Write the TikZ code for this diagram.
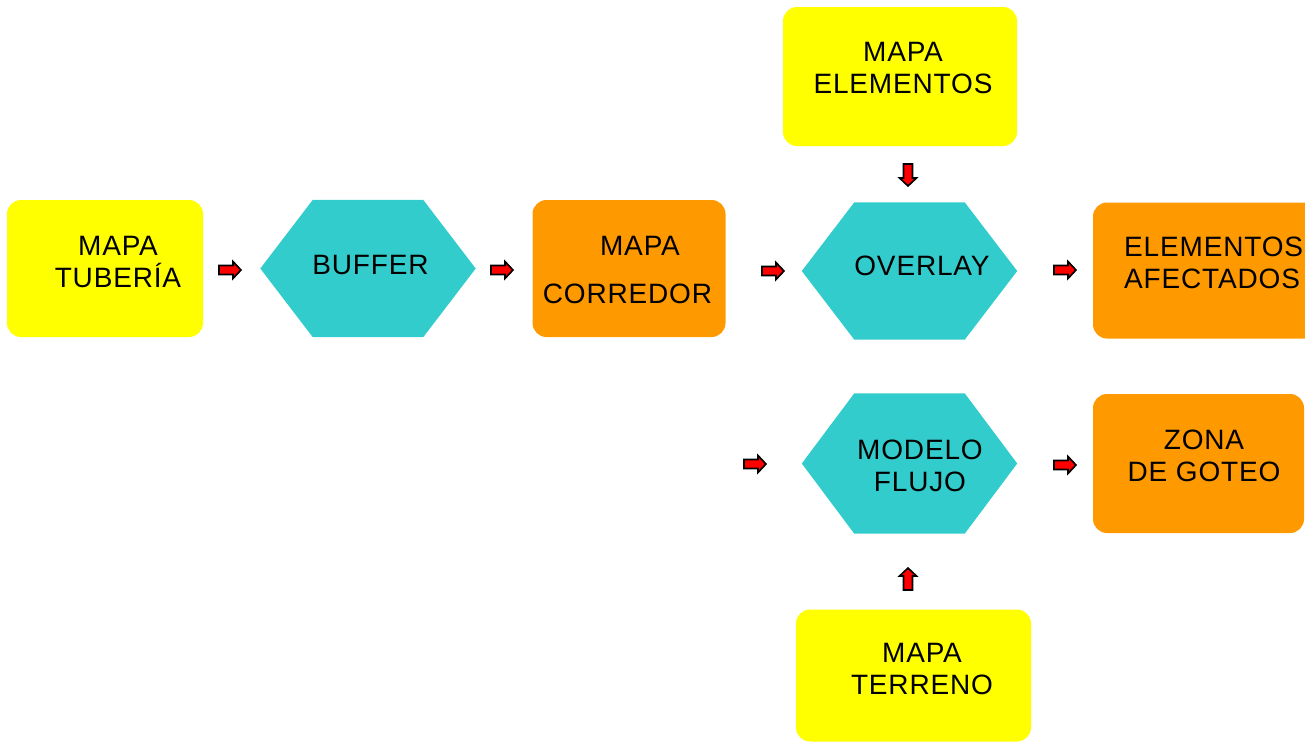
\documentclass[tikz,border=0pt]{standalone}
\usepackage{fontspec}
\setmainfont{Liberation Sans}[LetterSpace=3]
\definecolor{boxyellow}{HTML}{FFFF00}
\definecolor{boxorange}{HTML}{FF9900}
\definecolor{boxcyan}{HTML}{33CCCC}
\definecolor{arrowred}{HTML}{FF0000}
\tikzset{
  ybox/.style={rectangle, rounded corners=14pt, fill=boxyellow, draw=none, inner sep=0pt},
  obox/.style={rectangle, rounded corners=14pt, fill=boxorange, draw=none, inner sep=0pt},
  hexframe/.style={rectangle, draw=none, fill=none, inner sep=0pt,
                   minimum width=215pt, minimum height=137pt},
  hexfill/.style={fill=boxcyan},
  lbl/.style={font=\fontsize{28pt}{32pt}\selectfont, text=black, align=center, inner sep=0pt},
  blockarrow/.pic={
    \filldraw[fill=arrowred, draw=black, line width=1.6pt, line join=miter]
      (-11,-4.5) -- (3,-4.5) -- (3,-8.5) -- (11,0) -- (3,8.5) -- (3,4.5) -- (-11,4.5) -- cycle;
  }
}
% hexagon drawn over an invisible frame node
\newcommand\hexshape[1]{%
  \fill[hexfill] (#1.west) -- ([xshift=52.5pt]#1.north west) -- ([xshift=-52.5pt]#1.north east)
    -- (#1.east) -- ([xshift=-52.5pt]#1.south east) -- ([xshift=52.5pt]#1.south west) -- cycle;}
\begin{document}
\begin{tikzpicture}[x=1pt,y=-1pt]
\useasboundingbox (0,0) rectangle (1305,742);

% boxes
\node[ybox, minimum width=196pt, minimum height=137pt] (tub) at (105,268.5) {};
\node[obox, minimum width=193pt, minimum height=137pt] (corr) at (629,268.5) {};
\node[obox, minimum width=240pt, minimum height=136pt] (afec) at (1213,270.5) {};
\node[ybox, minimum width=234pt, minimum height=139pt] (elem) at (900,76.5) {};
\node[obox, minimum width=211pt, minimum height=139pt] (zona) at (1198.5,463.5) {};
\node[ybox, minimum width=235pt, minimum height=132pt] (terr) at (913.5,675.5) {};

% hexagons
\node[hexframe] (buf) at (368,268.5) {};
\hexshape{buf}
\node[hexframe] (over) at (909.5,271) {};
\hexshape{over}
\node[hexframe, minimum height=140pt] (flujo) at (909.5,463.5) {};
\hexshape{flujo}

% labels
\node[lbl] (tubT) at (118,262) {MAPA\\TUBERÍA};
\node[lbl] (bufT) at (370.5,265) {BUFFER};
\node[lbl] (corrT1) at (640,246) {MAPA};
\node[lbl] (corrT2) at (627.5,294) {CORREDOR};
\node[lbl] (overT) at (922,265.5) {OVERLAY};
\node[lbl, align=left, anchor=west] (afecT) at (1124,262.5) {ELEMENTOS\\AFECTADOS};
\node[lbl] (elemT) at (903,68.5) {MAPA\\ELEMENTOS};
\node[lbl] (flujoT) at (920,465.5) {MODELO\\FLUJO};
\node[lbl] (zonaT) at (1204,455.5) {ZONA\\DE GOTEO};
\node[lbl] (terrT) at (922,668.5) {MAPA\\TERRENO};

% small block arrows between the steps
\pic at (230,270) {blockarrow};
\pic at (502,270) {blockarrow};
\pic at (773,271) {blockarrow};
\pic at (1065,270) {blockarrow};
\pic[rotate=-90] at (908,175) {blockarrow};
\pic at (755,464) {blockarrow};
\pic at (1065,465) {blockarrow};
\pic[rotate=90] at (908,579) {blockarrow};
\end{tikzpicture}
\end{document}
